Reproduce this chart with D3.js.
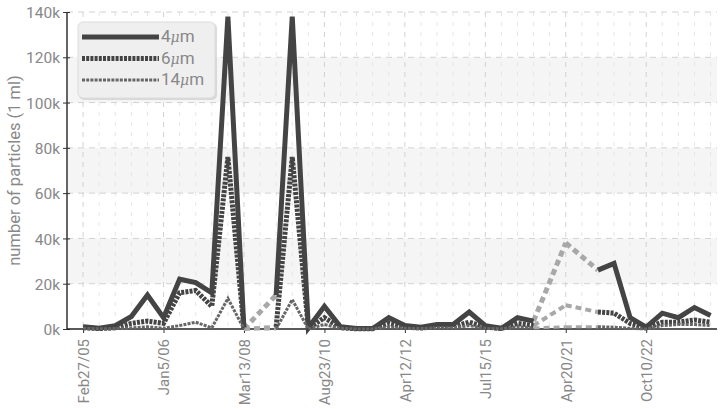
<!DOCTYPE html>
<html>
<head>
<meta charset="utf-8">
<script src="https://cdn.jsdelivr.net/npm/d3@7"></script>
<style>
  body { margin: 0; background: #fff; }
  text { font-family: "Liberation Sans Narrow", "Roboto", sans-serif; }
</style>
</head>
<body>
<svg id="chart" width="721" height="409"></svg>
<script>
// sample index per measurement, labelled every 5th one
const tickIndex = [0, 5, 10, 15, 20, 25, 30, 35];
const tickLabels = ["Feb27/05", "Jan5/06", "Mar13/08", "Aug23/10", "Apr12/12", "Jul15/15", "Apr20/21", "Oct10/22"];
const yTicks = [0, 20000, 40000, 60000, 80000, 100000, 120000, 140000];

// particles per ml, null = no measurement
const p4 = [1000, 300, 1500, 5500, 15000, 5000, 22000, 20500, 16000, 138000,
            0, null, 15000, 138000, 500, 10000, 1000, 200, 200, 5000,
            1500, 800, 2000, 2000, 7500, 1500, 300, 5000, 3500, null,
            38000, null, 26000, 29000, 5000, 800, 7000, 5000, 9500, 6000];
const p6 = [500, 200, 500, 2500, 3500, 2500, 16000, 17000, 10000, 76000,
            0, null, 1000, 76000, 300, 5000, 500, 100, 100, 2500,
            800, 400, 1000, 1000, 3000, 800, 200, 2500, 1500, null,
            10500, null, 7500, 7000, 2500, 500, 3000, 3000, 4000, 3000];
const p14 = [300, 100, 200, 500, 1000, 300, 1500, 3000, 500, 13500,
             0, null, 0, 13000, 0, 2000, 300, 50, 50, 1000,
             300, 200, 500, 500, 1500, 300, 100, 1000, 500, null,
             1000, null, 1000, 800, 300, 0, 1500, 2000, 2000, 1500];

const seriesNames = ["4", "6", "14"];

const svg = d3.select("#chart");
const pLeft = 67, pRight = 717, pTop = 12, pBottom = 329;

const x = d3.scaleLinear().domain([-1, 39.4]).range([pLeft, pRight]);
const y = d3.scaleLinear().domain([0, 140000]).range([pBottom, pTop]);

// background bands
for (let i = 1; i < yTicks.length - 1; i += 2) {
  svg.append("rect")
    .attr("x", pLeft).attr("width", pRight - pLeft)
    .attr("y", y(yTicks[i + 1])).attr("height", y(yTicks[i]) - y(yTicks[i + 1]))
    .attr("fill", "#f5f5f5");
}

// minor vertical grid
svg.append("g").selectAll("line")
  .data(d3.range(0, 40).filter(i => !tickIndex.includes(i)))
  .enter().append("line")
  .attr("x1", d => x(d)).attr("x2", d => x(d))
  .attr("y1", pTop).attr("y2", pBottom)
  .attr("stroke", "#e6e6e6").attr("stroke-dasharray", "4,6");

// major vertical grid
svg.append("g").selectAll("line")
  .data(tickIndex.concat([40]).filter(d => x(d) < pRight))
  .enter().append("line")
  .attr("x1", d => x(d)).attr("x2", d => x(d))
  .attr("y1", pTop).attr("y2", pBottom)
  .attr("stroke", "#d2d2d2").attr("stroke-dasharray", "5,5");

// horizontal grid
svg.append("g").selectAll("line")
  .data(yTicks.slice(1))
  .enter().append("line")
  .attr("x1", pLeft).attr("x2", pRight)
  .attr("y1", d => y(d)).attr("y2", d => y(d))
  .attr("stroke", "#d2d2d2").attr("stroke-dasharray", "6,5");

// y axis
const yAxis = d3.axisLeft(y).tickValues(yTicks)
  .tickFormat(d => (d / 1000) + "k").tickSize(4).tickPadding(3);
const gy = svg.append("g").attr("transform", `translate(${pLeft},0)`).call(yAxis);
gy.select(".domain").attr("stroke", "#333").attr("stroke-width", 1.5).attr("d", `M0,${pTop}V${pBottom}`);
gy.selectAll(".tick line").attr("stroke", "#333").attr("x1", 3).attr("x2", -4);
gy.selectAll(".tick text").attr("fill", "#888").style("font-size", "15.5px").attr("dy", "0.36em");

// x axis
const xAxis = d3.axisBottom(x).tickValues(tickIndex)
  .tickFormat((d, i) => tickLabels[i]).tickSize(4);
const gx = svg.append("g").attr("transform", `translate(0,${pBottom})`).call(xAxis);
gx.select(".domain").attr("stroke", "#222").attr("stroke-width", 1.5).attr("d", `M${pLeft},0H${pRight}`);
gx.selectAll(".tick line").attr("stroke", "#333");
gx.selectAll(".tick text")
  .attr("fill", "#888").style("font-size", "15px")
  .attr("text-anchor", "end")
  .attr("transform", "rotate(-90)")
  .attr("x", -10).attr("y", 0).attr("dy", "0.35em");

// y label
svg.append("text")
  .attr("transform", `translate(20,${(pTop + pBottom) / 2}) rotate(-90)`)
  .attr("text-anchor", "middle")
  .attr("fill", "#888").style("font-size", "16.5px")
  .text("number of particles (1 ml)");

const styles = [
  { color: "#444", width: 5, dash: null, bridge: 5 },
  { color: "#444", width: 5, dash: "3,1.2", bridge: 4 },
  { color: "#666", width: 3, dash: "3,1.2", bridge: 3 }
];
const allSeries = [p4, p6, p14];

const line = d3.line()
  .defined(d => d.v != null)
  .x(d => x(d.i)).y(d => y(d.v));

const plot = svg.append("g");

allSeries.forEach((s, k) => {
  const pts = s.map((v, i) => ({ i: i, v: v }));
  const known = pts.filter(d => d.v != null);
  // dashed grey bridges across missing samples
  for (let j = 1; j < known.length; j++) {
    if (known[j].i - known[j - 1].i > 1) {
      plot.append("path")
        .attr("d", d3.line().x(d => x(d.i)).y(d => y(d.v))([known[j - 1], known[j]]))
        .attr("fill", "none").attr("stroke", "#a8a8a8")
        .attr("stroke-width", styles[k].bridge)
        .attr("stroke-dasharray", "6,4");
    }
  }
  plot.append("path")
    .attr("d", line(pts))
    .attr("fill", "none")
    .attr("stroke", styles[k].color)
    .attr("stroke-width", styles[k].width)
    .attr("stroke-dasharray", styles[k].dash)
    .attr("stroke-linejoin", "miter");
});

// legend
const lg = svg.append("g").attr("transform", "translate(78,22)");
lg.append("rect")
  .attr("x", 1).attr("y", 1).attr("width", 138).attr("height", 77).attr("rx", 5)
  .attr("fill", "#bbb").attr("opacity", 0.5);
lg.append("rect")
  .attr("width", 137).attr("height", 76).attr("rx", 5)
  .attr("fill", "#efefef").attr("stroke", "#dcdcdc");
seriesNames.forEach((n, k) => {
  const yy = 15 + k * 21.5;
  lg.append("line")
    .attr("x1", 4).attr("x2", 81).attr("y1", yy).attr("y2", yy)
    .attr("stroke", styles[k].color)
    .attr("stroke-width", styles[k].width)
    .attr("stroke-dasharray", styles[k].dash);
  const t = lg.append("text")
    .attr("x", 83).attr("y", yy).attr("dy", "0.32em")
    .attr("fill", "#888").style("font-size", "17px");
  t.append("tspan").text(n);
  t.append("tspan").style("font-style", "italic").style("font-family", "DejaVu Serif, serif").style("font-size", "14px").text("\u03bc");
  t.append("tspan").text("m");
});
</script>
</body>
</html>
